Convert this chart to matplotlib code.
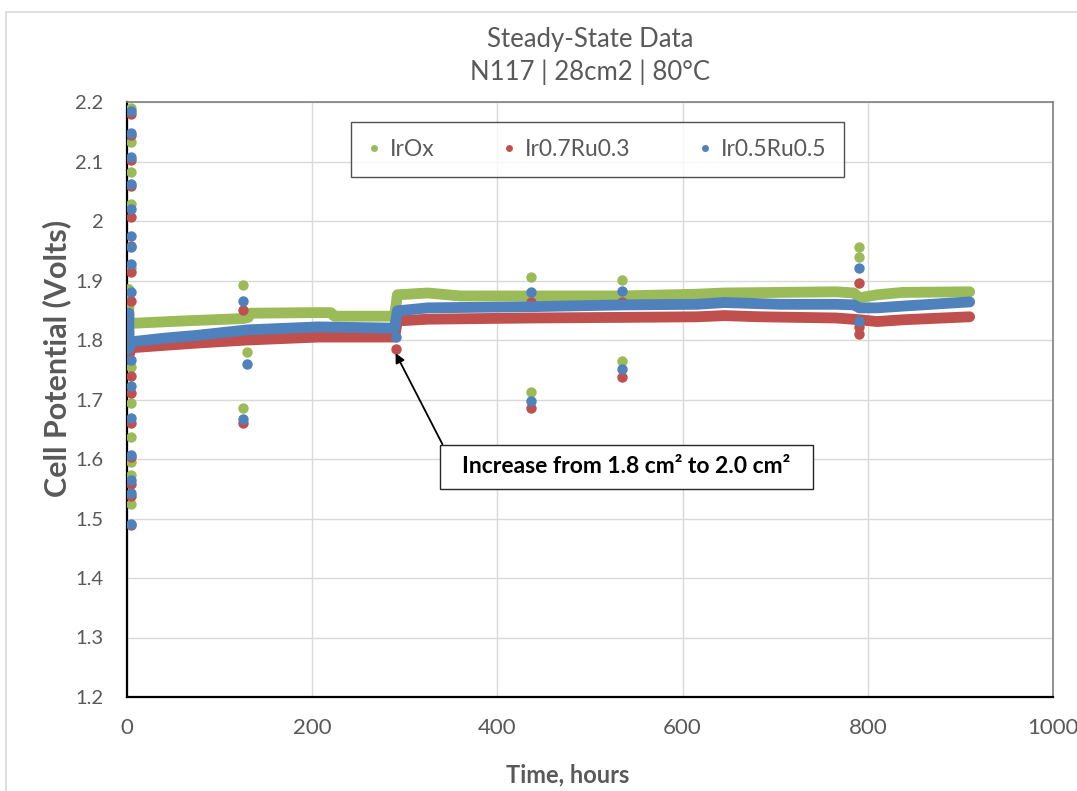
import matplotlib
matplotlib.use("Agg")
import matplotlib.pyplot as plt
from matplotlib.patches import Rectangle
from matplotlib.ticker import FuncFormatter

# couleurs style Excel
c_green = "#9BBB59"
c_red = "#C0504D"
c_blue = "#4F81BD"
c_text = "#595959"

series_names = ["IrOx", "Ir0.7Ru0.3", "Ir0.5Ru0.5"]

# tendance (bande épaisse de points) - temps en heures, tension en V
green_t = [2, 2, 5, 60, 125, 131, 133, 200, 220, 224, 286, 289, 292, 325, 360, 436, 535, 616, 645, 705, 766, 785, 791, 810, 838, 910]
green_v = [1.885, 1.825, 1.828, 1.832, 1.836, 1.838, 1.845, 1.846, 1.846, 1.840, 1.840, 1.840, 1.876, 1.879, 1.874, 1.874, 1.874, 1.877, 1.879, 1.880, 1.881, 1.879, 1.871, 1.876, 1.880, 1.881]

red_t = [2, 2, 5, 40, 77, 130, 207, 286, 289, 292, 325, 436, 535, 616, 645, 683, 766, 791, 810, 838, 910]
red_v = [1.815, 1.775, 1.787, 1.791, 1.795, 1.800, 1.805, 1.805, 1.805, 1.832, 1.835, 1.837, 1.838, 1.839, 1.841, 1.839, 1.837, 1.834, 1.831, 1.834, 1.839]

blue_t = [2, 2, 5, 40, 77, 130, 207, 286, 289, 292, 325, 436, 535, 616, 645, 705, 766, 785, 791, 810, 838, 910]
blue_v = [1.845, 1.785, 1.797, 1.803, 1.808, 1.817, 1.822, 1.820, 1.820, 1.849, 1.854, 1.856, 1.859, 1.860, 1.863, 1.860, 1.860, 1.859, 1.854, 1.854, 1.857, 1.864]

# points isolés (démarrage, arrêts)
green_pt_t = [4, 4, 4, 4, 4, 4, 4, 4, 4, 4, 4, 125, 125, 130, 290, 436, 436, 535, 535, 790, 790]
green_pt_v = [2.190, 2.133, 2.083, 2.028, 1.921, 1.755, 1.694, 1.637, 1.595, 1.573, 1.524, 1.892, 1.685, 1.780, 1.854, 1.906, 1.712, 1.901, 1.765, 1.956, 1.940]

red_pt_t = [4, 4, 4, 4, 4, 4, 4, 4, 4, 4, 4, 4, 4, 4, 4, 125, 125, 290, 436, 436, 535, 535, 790, 790, 790]
red_pt_v = [2.180, 2.145, 2.102, 2.058, 2.007, 1.958, 1.915, 1.866, 1.740, 1.711, 1.660, 1.603, 1.558, 1.537, 1.489, 1.850, 1.660, 1.785, 1.864, 1.685, 1.864, 1.738, 1.896, 1.822, 1.810]

blue_pt_t = [4, 4, 4, 4, 4, 4, 4, 4, 4, 4, 4, 4, 4, 4, 4, 4, 125, 125, 130, 290, 436, 436, 535, 535, 790, 790]
blue_pt_v = [2.185, 2.148, 2.108, 2.062, 2.020, 1.974, 1.957, 1.928, 1.881, 1.766, 1.723, 1.669, 1.607, 1.565, 1.543, 1.491, 1.866, 1.668, 1.760, 1.805, 1.881, 1.698, 1.882, 1.751, 1.921, 1.832]

x_ticks = [0, 200, 400, 600, 800, 1000]
y_ticks = [1.2, 1.3, 1.4, 1.5, 1.6, 1.7, 1.8, 1.9, 2.0, 2.1, 2.2]

plt.rcParams['font.family'] = ['Lato', 'DejaVu Sans']

fig = plt.figure(figsize=(10.77, 7.91), dpi=100)
W, H = 1077, 791
ax = fig.add_axes([127 / W, 1 - 697 / H, (1053 - 127) / W, (697 - 102) / H])

# cadre gris du graphique
fig.patches.append(Rectangle((6 / W, -0.1), 1.2, 1 - 12 / H + 0.1, transform=fig.transFigure,
                             fill=False, edgecolor="#D9D9D9", linewidth=1.2, zorder=0))

data = [(green_t, green_v, green_pt_t, green_pt_v, c_green),
        (red_t, red_v, red_pt_t, red_pt_v, c_red),
        (blue_t, blue_v, blue_pt_t, blue_pt_v, c_blue)]

for name, (tt, vv, pt, pv, col) in zip(series_names, data):
    ax.plot(tt, vv, color=col, linewidth=7.8, solid_capstyle="round",
            solid_joinstyle="round", zorder=3)
    ax.plot(pt, pv, linestyle="none", marker="o", markersize=7.5,
            color=col, markeredgewidth=0, zorder=3)
    # entrée de légende
    ax.plot([], [], linestyle="none", marker="o", markersize=5,
            color=col, markeredgewidth=0, label=name)

ax.set_xlim(0, 1000)
ax.set_ylim(1.2, 2.2)
ax.set_xticks(x_ticks)
ax.set_yticks(y_ticks)
ax.yaxis.set_major_formatter(FuncFormatter(lambda v, p: "%g" % round(v, 1)))
ax.grid(True, color="#D9D9D9", linewidth=1)
ax.set_axisbelow(True)
ax.tick_params(length=0, labelcolor=c_text)
ax.tick_params(axis="y", pad=17, labelsize=14.5)
ax.tick_params(axis="x", pad=15, labelsize=16)

for s in ["left", "bottom"]:
    ax.spines[s].set_color("black")
    ax.spines[s].set_linewidth(1.6)
for s in ["top", "right"]:
    ax.spines[s].set_color("#7F7F7F")
    ax.spines[s].set_linewidth(1.2)

fig.text(590 / W, 1 - 40 / H, "Steady-State Data", ha="center", va="center",
         fontsize=18.5, color=c_text)
fig.text(590 / W, 1 - 72 / H, "N117 | 28cm2 | 80°C", ha="center", va="center",
         fontsize=18.5, color=c_text)
fig.text(57 / W, 1 - 358 / H, "Cell Potential (Volts)", rotation=90, ha="center",
         va="center", fontsize=22, fontweight="bold", color=c_text)
fig.text(568 / W, 1 - 775 / H, "Time, hours", ha="center", va="center",
         fontsize=17, fontweight="bold", color=c_text)

leg = ax.legend(loc="center", bbox_to_anchor=((597.5 - 127) / 926, (697 - 149.5) / 595),
                ncol=3, frameon=True, fancybox=False, fontsize=16.5,
                handlelength=0.5, handletextpad=0.45, columnspacing=3.0,
                borderpad=0.75, borderaxespad=0)
leg.get_frame().set_edgecolor("#262626")
leg.get_frame().set_linewidth(1.0)
for t in leg.get_texts():
    t.set_color(c_text)

ax.annotate("  Increase from 1.8 cm² to 2.0 cm²  ", xy=(290, 1.778),
            xytext=(539, 1.587), ha="center", va="center",
            fontsize=16.5, fontweight="bold", color="black",
            bbox=dict(boxstyle="square,pad=0.5", facecolor="white",
                      edgecolor="#262626", linewidth=1.0),
            arrowprops=dict(arrowstyle="-|>", color="black", linewidth=1.3,
                            mutation_scale=14, relpos=(0.0, 0.78),
                            shrinkA=0, shrinkB=0),
            zorder=5)

fig.savefig("out.png", dpi=100)
